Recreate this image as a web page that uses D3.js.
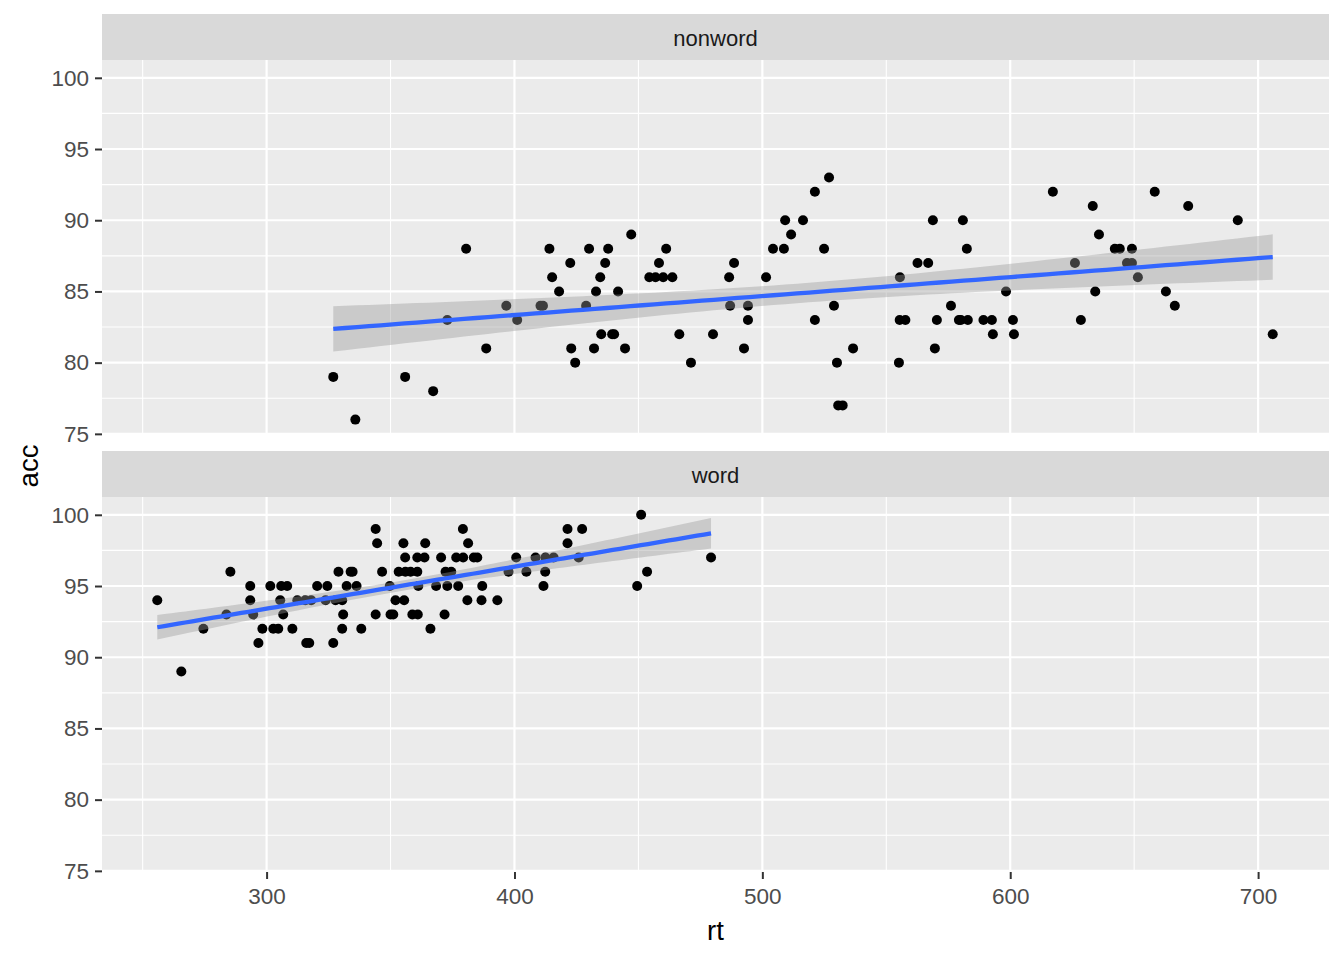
<!DOCTYPE html>
<html>
<head>
<meta charset="utf-8">
<script src="https://cdn.jsdelivr.net/npm/d3@7"></script>
<style>
html,body{margin:0;padding:0;background:#fff;}
svg{display:block;font-family:"Liberation Sans",Arial,sans-serif;}
</style>
</head>
<body>
<svg id="chart" width="1344" height="960"></svg>
<script>
// ---- data ----
const panels = ["nonword", "word"];

const nonwordRt = [326.9,335.8,355.9,367.2,372.9,380.5,388.6,396.7,401.1,410.5,411.5,414.1,415.2,418.0,422.5,422.9,424.5,428.9,430.1,432.1,432.9,434.6,435.0,436.6,437.8,439.4,440.2,441.8,444.6,447.1,454.4,456.9,458.3,460.0,461.2,463.7,466.5,471.2,480.1,486.6,488.6,487.0,494.2,494.2,492.6,501.5,504.3,508.7,509.2,511.6,516.4,521.2,521.2,524.9,526.9,528.9,530.1,530.6,532.4,536.6,555.1,555.5,555.4,557.7,562.6,566.9,568.8,569.6,570.4,576.1,579.3,580.1,582.9,580.9,582.5,589.2,592.6,593.0,598.3,601.1,601.5,617.2,626.1,628.5,633.3,634.3,635.8,642.2,644.2,649.1,647.1,649.1,651.5,658.3,662.8,666.4,671.8,691.8,705.9];
const nonwordAcc = [79,76,79,78,83,88,81,84,83,84,84,88,86,85,87,81,80,84,88,81,85,86,82,87,88,82,82,85,81,89,86,86,87,86,88,86,82,80,82,86,87,84,84,83,81,86,88,88,90,89,90,92,83,88,93,84,80,77,77,81,80,86,83,83,87,87,90,81,83,84,83,83,83,90,88,83,83,82,85,83,82,92,87,83,91,85,89,88,88,88,87,87,86,92,85,84,91,90,82];

const wordRt = [255.9,265.6,274.5,283.8,285.4,293.4,293.4,294.6,296.7,298.3,301.5,302.7,304.7,305.5,305.9,308.3,306.7,310.4,312.4,316.0,317.2,315.6,318.0,320.4,324.5,323.8,327.8,330.5,330.9,330.5,326.9,329.0,333.9,334.7,332.3,336.3,338.2,344.0,344.6,344.0,346.6,349.7,350.0,351.1,352.0,353.3,355.2,355.5,355.9,356.0,358.1,358.8,360.8,360.8,361.2,361.0,364.0,363.7,366.1,368.4,370.4,371.8,372.2,372.9,374.5,376.5,377.3,379.2,379.3,381.3,381.0,383.6,385.0,387.0,386.7,393.1,397.6,400.7,404.8,408.5,411.7,412.4,412.5,415.8,421.4,421.4,425.9,427.3,449.5,451.1,453.5,479.3];
const wordAcc = [94,89,92,93,96,95,94,93,91,92,95,92,92,94,95,95,93,92,94,91,91,94,94,95,95,94,94,94,93,92,91,96,96,96,95,95,92,99,98,93,96,95,93,93,94,96,98,94,97,96,96,93,97,96,95,93,98,97,92,95,97,93,96,95,96,97,95,99,97,98,94,97,97,95,94,94,96,97,96,97,95,96,97,97,99,98,97,99,95,100,96,97];

const xTicks = [300, 400, 500, 600, 700];
const xMinor = [250, 350, 450, 550, 650];
const yTicks = [75, 80, 85, 90, 95, 100];
const yMinor = [77.5, 82.5, 87.5, 92.5, 97.5];
const xLabel = "rt";
const yLabel = "acc";

// ---- layout ----
const svg = d3.select("#chart");
const L = 102, R = 1329;
const panelBoxes = [
  {stripTop: 14, top: 60, bottom: 435},
  {stripTop: 451, top: 497, bottom: 872}
];
const x = d3.scaleLinear().domain([233.6, 728.6]).range([L, R]);

// linear regression with 95% CI (like geom_smooth(method = "lm"))
function lmFit(xs, ys) {
  const n = xs.length;
  const mx = d3.mean(xs), my = d3.mean(ys);
  let sxx = 0, sxy = 0;
  for (let i = 0; i < n; i++) { sxx += (xs[i]-mx)**2; sxy += (xs[i]-mx)*(ys[i]-my); }
  const b = sxy/sxx, a = my - b*mx;
  let sse = 0;
  for (let i = 0; i < n; i++) { const r = ys[i] - (a + b*xs[i]); sse += r*r; }
  const s = Math.sqrt(sse/(n-2));
  const t = 1.986;
  const [lo, hi] = d3.extent(xs);
  return d3.range(80).map(k => {
    const xv = lo + (hi-lo)*k/79;
    const yv = a + b*xv;
    const se = s*Math.sqrt(1/n + (xv-mx)**2/sxx);
    return {x: xv, y: yv, ymin: yv - t*se, ymax: yv + t*se};
  });
}

const datasets = [
  {name: panels[0], rt: nonwordRt, acc: nonwordAcc},
  {name: panels[1], rt: wordRt, acc: wordAcc}
];

datasets.forEach((ds, i) => {
  const box = panelBoxes[i];
  const y = d3.scaleLinear().domain([74.92, 101.25]).range([box.bottom, box.top]);
  const g = svg.append("g");

  // strip
  g.append("rect").attr("x", L).attr("y", box.stripTop).attr("width", R-L).attr("height", box.top-box.stripTop).attr("fill", "#D9D9D9");
  g.append("text").attr("x", (L+R)/2).attr("y", (box.stripTop+box.top)/2 + 9)
    .attr("text-anchor", "middle").attr("font-size", 22).attr("fill", "#1A1A1A").text(ds.name);

  // panel background
  g.append("rect").attr("x", L).attr("y", box.top).attr("width", R-L).attr("height", box.bottom-box.top).attr("fill", "#EBEBEB");

  // minor grid
  g.selectAll(".vmin").data(xMinor).join("line")
    .attr("x1", d => x(d)).attr("x2", d => x(d)).attr("y1", box.top).attr("y2", box.bottom)
    .attr("stroke", "#fff").attr("stroke-width", 1.1);
  g.selectAll(".hmin").data(yMinor).join("line")
    .attr("x1", L).attr("x2", R).attr("y1", d => y(d)).attr("y2", d => y(d))
    .attr("stroke", "#fff").attr("stroke-width", 1.1);
  // major grid
  g.selectAll(".vmaj").data(xTicks).join("line")
    .attr("x1", d => x(d)).attr("x2", d => x(d)).attr("y1", box.top).attr("y2", box.bottom)
    .attr("stroke", "#fff").attr("stroke-width", 2.2);
  g.selectAll(".hmaj").data(yTicks).join("line")
    .attr("x1", L).attr("x2", R).attr("y1", d => y(d)).attr("y2", d => y(d))
    .attr("stroke", "#fff").attr("stroke-width", 2.2);

  // points
  const pts = ds.rt.map((r, k) => ({rt: r, acc: ds.acc[k]}));
  g.selectAll(".pt").data(pts).join("circle")
    .attr("cx", d => x(d.rt)).attr("cy", d => y(d.acc)).attr("r", 5).attr("fill", "#000");

  // smooth
  const fit = lmFit(ds.rt, ds.acc);
  const area = d3.area().x(d => x(d.x)).y0(d => y(d.ymin)).y1(d => y(d.ymax));
  g.append("path").datum(fit).attr("d", area).attr("fill", "#999999").attr("fill-opacity", 0.4);
  const line = d3.line().x(d => x(d.x)).y(d => y(d.y));
  g.append("path").datum(fit).attr("d", line).attr("fill", "none").attr("stroke", "#3366FF").attr("stroke-width", 4.3);

  // y axis
  const ya = d3.axisLeft(y).tickValues(yTicks).tickSize(7).tickPadding(6).tickFormat(d3.format("d"));
  const yg = svg.append("g").attr("transform", `translate(${L},0)`).call(ya);
  yg.select(".domain").remove();
  yg.selectAll(".tick line").attr("stroke", "#333333").attr("stroke-width", 2);
  yg.selectAll(".tick text").attr("font-size", 22.5).attr("fill", "#4D4D4D").attr("font-family", "Liberation Sans, Arial, sans-serif");
});

// x axis (bottom panel only)
const xa = d3.axisBottom(x).tickValues(xTicks).tickSize(7).tickPadding(9);
const xg = svg.append("g").attr("transform", `translate(0,${panelBoxes[1].bottom})`).call(xa);
xg.select(".domain").remove();
xg.selectAll(".tick line").attr("stroke", "#333333").attr("stroke-width", 2);
xg.selectAll(".tick text").attr("font-size", 22.5).attr("fill", "#4D4D4D").attr("font-family", "Liberation Sans, Arial, sans-serif");

// axis titles
svg.append("text").attr("x", (L+R)/2).attr("y", 940).attr("text-anchor", "middle")
  .attr("font-size", 27.5).attr("fill", "#000").text(xLabel);
svg.append("text").attr("transform", `translate(38,${(60+872)/2}) rotate(-90)`).attr("text-anchor", "middle")
  .attr("font-size", 27.5).attr("fill", "#000").text(yLabel);
</script>
</body>
</html>
